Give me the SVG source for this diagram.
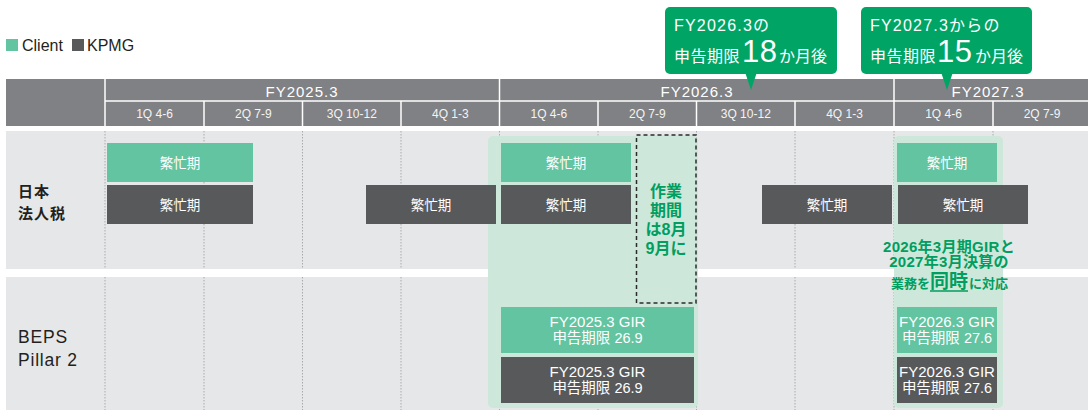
<svg xmlns="http://www.w3.org/2000/svg" width="1088" height="410" viewBox="0 0 1088 410">
<style>
text{font-family:"Liberation Sans","Noto Sans CJK JP",sans-serif}
.client{fill:#62c4a0}
.kpmg{fill:#58595b}
.bt{fill:#ffffff;font-size:13.5px;text-anchor:middle}
.gt{fill:#ffffff;font-size:15px;text-anchor:middle}
.hdr{fill:#808184}
.fy{fill:#ffffff;font-size:15px;letter-spacing:1px;text-anchor:middle}
.q{fill:#f4f4f4;font-size:12px;text-anchor:middle}
.row{fill:#e6e7e8}
.dot{stroke:#a9aaac;stroke-width:1;stroke-dasharray:1.5 1.5}
.wl{stroke:#ffffff;stroke-width:1.5}
.hl{fill:#cde7da}
.grn{fill:#009e5f;font-weight:bold}
.co{fill:#00a566}
.cot{fill:#ffffff;font-size:16px;letter-spacing:1.2px}
.lab{fill:#231f20}
</style>

<g id="legend">
<rect x="6" y="39" width="12" height="12" class="client"/>
<text x="22" y="51" font-size="16" fill="#231f20">Client</text>
<rect x="72" y="39" width="12" height="12" class="kpmg"/>
<text x="87" y="51" font-size="16" fill="#231f20">KPMG</text>
</g>

<g id="header">
<rect x="6" y="79" width="1082" height="47" class="hdr"/>
<line x1="105" y1="101" x2="1088" y2="101" class="wl"/>
<line x1="105" y1="79" x2="105" y2="126" class="wl"/>
<line x1="499.5" y1="79" x2="499.5" y2="126" class="wl"/>
<line x1="894" y1="79" x2="894" y2="126" class="wl"/>
<line x1="204" y1="101" x2="204" y2="126" class="wl"/>
<line x1="302.5" y1="101" x2="302.5" y2="126" class="wl"/>
<line x1="401" y1="101" x2="401" y2="126" class="wl"/>
<line x1="598" y1="101" x2="598" y2="126" class="wl"/>
<line x1="696.5" y1="101" x2="696.5" y2="126" class="wl"/>
<line x1="795" y1="101" x2="795" y2="126" class="wl"/>
<line x1="993" y1="101" x2="993" y2="126" class="wl"/>
<text x="302" y="96.5" class="fy">FY2025.3</text>
<text x="697" y="96.5" class="fy">FY2026.3</text>
<text x="988" y="96.5" class="fy">FY2027.3</text>
<text x="154.5" y="118" class="q">1Q 4-6</text>
<text x="253.3" y="118" class="q">2Q 7-9</text>
<text x="351.8" y="118" class="q">3Q 10-12</text>
<text x="450.3" y="118" class="q">4Q 1-3</text>
<text x="548.8" y="118" class="q">1Q 4-6</text>
<text x="647.3" y="118" class="q">2Q 7-9</text>
<text x="745.8" y="118" class="q">3Q 10-12</text>
<text x="844.5" y="118" class="q">4Q 1-3</text>
<text x="943.5" y="118" class="q">1Q 4-6</text>
<text x="1042" y="118" class="q">2Q 7-9</text>
</g>

<g id="rows">
<rect x="6" y="131" width="1082" height="138" class="row"/>
<rect x="6" y="277" width="1082" height="133" class="row"/>
<g class="dot">
<line x1="105" y1="131" x2="105" y2="269"/><line x1="105" y1="277" x2="105" y2="410"/>
<line x1="204" y1="131" x2="204" y2="269"/><line x1="204" y1="277" x2="204" y2="410"/>
<line x1="302.5" y1="131" x2="302.5" y2="269"/><line x1="302.5" y1="277" x2="302.5" y2="410"/>
<line x1="401" y1="131" x2="401" y2="269"/><line x1="401" y1="277" x2="401" y2="410"/>
<line x1="499.5" y1="131" x2="499.5" y2="269"/><line x1="499.5" y1="277" x2="499.5" y2="410"/>
<line x1="598" y1="131" x2="598" y2="269"/><line x1="598" y1="277" x2="598" y2="410"/>
<line x1="696.5" y1="131" x2="696.5" y2="269"/><line x1="696.5" y1="277" x2="696.5" y2="410"/>
<line x1="795" y1="131" x2="795" y2="269"/><line x1="795" y1="277" x2="795" y2="410"/>
<line x1="894" y1="131" x2="894" y2="269"/><line x1="894" y1="277" x2="894" y2="410"/>
<line x1="993" y1="131" x2="993" y2="269"/><line x1="993" y1="277" x2="993" y2="410"/>
</g>
<text class="lab" font-size="15" font-weight="bold" letter-spacing="1"><tspan x="18" y="197">日本</tspan><tspan x="18" y="219">法人税</tspan></text>
<text class="lab" font-size="17.5" letter-spacing="0.8"><tspan x="18" y="343">BEPS</tspan><tspan x="18" y="366">Pillar 2</tspan></text>
</g>

<g id="highlight-fy2026">
<rect x="488" y="136" width="210" height="272" rx="5" class="hl"/>
</g>
<g id="highlight-fy2027">
<rect x="894" y="136" width="109" height="272" rx="5" class="hl"/>
</g>

<g id="work-period">
<rect x="636.5" y="135" width="59.5" height="168" fill="#cde7da" stroke="#2b2b2b" stroke-width="1.5" stroke-dasharray="4 3"/>
<text class="grn" font-size="16" text-anchor="middle"><tspan x="666" y="197">作業</tspan><tspan x="666" y="216">期間</tspan><tspan x="666" y="235">は8月</tspan><tspan x="666" y="254">9月に</tspan></text>
</g>

<g id="jp-client-1"><rect x="107" y="143" width="146" height="39" class="client"/><text x="180" y="168" class="bt">繁忙期</text></g>
<g id="jp-kpmg-1"><rect x="107" y="185" width="146" height="39" class="kpmg"/><text x="180" y="210" class="bt">繁忙期</text></g>
<g id="jp-kpmg-2"><rect x="366" y="185" width="130" height="39" class="kpmg"/><text x="431" y="210" class="bt">繁忙期</text></g>
<g id="jp-client-2"><rect x="501" y="143" width="130" height="39" class="client"/><text x="566" y="168" class="bt">繁忙期</text></g>
<g id="jp-kpmg-3"><rect x="501" y="185" width="130" height="39" class="kpmg"/><text x="566" y="210" class="bt">繁忙期</text></g>
<g id="jp-kpmg-4"><rect x="762" y="185" width="130" height="39" class="kpmg"/><text x="827" y="210" class="bt">繁忙期</text></g>
<g id="jp-client-3"><rect x="897" y="143" width="100" height="39" class="client"/><text x="947" y="168" class="bt">繁忙期</text></g>
<g id="jp-kpmg-5"><rect x="898" y="185" width="130" height="39" class="kpmg"/><text x="963" y="210" class="bt">繁忙期</text></g>

<g id="gir-client-1"><rect x="501" y="307" width="193" height="46" class="client"/><text class="gt"><tspan x="597.5" y="327">FY2025.3 GIR</tspan><tspan x="597.5" y="343" font-size="14.5">申告期限 26.9</tspan></text></g>
<g id="gir-kpmg-1"><rect x="501" y="357" width="193" height="46" class="kpmg"/><text class="gt"><tspan x="597.5" y="377">FY2025.3 GIR</tspan><tspan x="597.5" y="393" font-size="14.5">申告期限 26.9</tspan></text></g>
<g id="gir-client-2"><rect x="897" y="307" width="100" height="46" class="client"/><text class="gt"><tspan x="947" y="327">FY2026.3 GIR</tspan><tspan x="947" y="343" font-size="14.5">申告期限 27.6</tspan></text></g>
<g id="gir-kpmg-2"><rect x="897" y="357" width="100" height="46" class="kpmg"/><text class="gt"><tspan x="947" y="377">FY2026.3 GIR</tspan><tspan x="947" y="393" font-size="14.5">申告期限 27.6</tspan></text></g>

<g id="simultaneous-note">
<text class="grn" font-size="15" letter-spacing="0.3" text-anchor="middle"><tspan x="949" y="251.5">2026年3月期GIRと</tspan><tspan x="949" y="266.7">2027年3月決算の</tspan></text>
<text class="grn" font-size="13"><tspan x="891" y="288.3">業務を</tspan><tspan x="930" y="288.3" font-size="19">同時</tspan><tspan x="969" y="288.3">に対応</tspan></text>
<line x1="930" y1="291" x2="968" y2="291" stroke="#009e5f" stroke-width="1.5"/>
</g>

<g id="callout-fy2026">
<rect x="665" y="7" width="172" height="67" rx="5" class="co"/>
<polygon points="745,72 757,72 751,90" class="co"/>
<text x="674" y="31" class="cot">FY2026.3の</text>
<text y="62" class="cot"><tspan x="674" letter-spacing="0.5">申告期限</tspan><tspan x="742" font-size="31" letter-spacing="0.5">18</tspan><tspan x="779" letter-spacing="0">か月後</tspan></text>
</g>
<g id="callout-fy2027">
<rect x="861" y="7" width="171" height="67" rx="5" class="co"/>
<polygon points="941,72 953,72 947,90" class="co"/>
<text x="870" y="31" class="cot">FY2027.3からの</text>
<text y="62" class="cot"><tspan x="870" letter-spacing="0.5">申告期限</tspan><tspan x="937" font-size="31" letter-spacing="0.5">15</tspan><tspan x="975" letter-spacing="0">か月後</tspan></text>
</g>
</svg>
